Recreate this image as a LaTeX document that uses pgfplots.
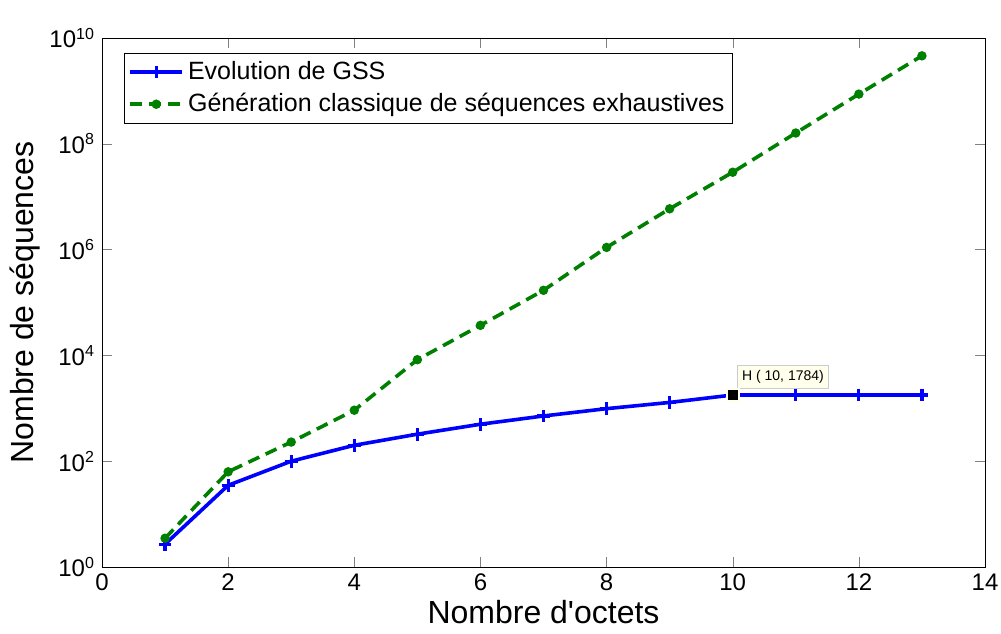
\documentclass[border=0pt]{standalone}
\usepackage{fontspec}
\setmainfont{Liberation Sans}
\usepackage{pgfplots}
\pgfplotsset{compat=1.18}
\definecolor{mblue}{RGB}{0,0,255}
\definecolor{mgreen}{RGB}{0,128,0}
\definecolor{tipbg}{RGB}{255,255,235}
\begin{document}
\begin{tikzpicture}
\path[use as bounding box] (0,0) rectangle (500.5pt,316.5pt);
\begin{axis}[
  at={(51pt,33pt)}, anchor=south west,
  scale only axis, width=441.5pt, height=264.5pt,
  xmin=0, xmax=14, ymode=log, ymin=1, ymax=1e10,
  xtick={0,2,...,14},
  ytick={1,1e2,1e4,1e6,1e8,1e10},
  yticklabels={10\textsuperscript{0},10\textsuperscript{2},10\textsuperscript{4},10\textsuperscript{6},10\textsuperscript{8},10\textsuperscript{10}},
  yminorticks=false,
  tick align=inside,
  major tick length=5pt,
  /pgf/number format/assume math mode=true,
  tick label style={font=\fontsize{12}{14}\selectfont},
  xlabel={Nombre d\textquotesingle octets},
  ylabel={Nombre de séquences},
  label style={font=\fontsize{16}{18}\selectfont},
  xlabel style={yshift=2pt},
  ylabel style={yshift=-2pt},
  axis line style={black},
  legend style={at={(0.025,0.9716)}, anchor=north west, font=\fontsize{12.5}{15}\selectfont, draw=black, row sep=1.5pt, inner sep=2pt},
  legend cell align=left,
  legend image code/.code={\draw[#1, mark repeat=2, mark phase=2] plot coordinates {(0pt,0pt) (13pt,0pt) (26pt,0pt)};},
]
\addplot[mblue, line width=1.8pt, mark=+, mark size=3.2pt, mark options={line width=1.6pt, solid}] coordinates {
(1,2.7) (2,35) (3,100) (4,200) (5,324) (6,500) (7,716) (8,985) (9,1290) (10,1784) (11,1784) (12,1784) (13,1784)
};
\addlegendentry{Evolution de GSS}
\addplot[mgreen, line width=1.8pt, dash pattern=on 6pt off 3.5pt, mark=*, mark size=1.4pt, mark options={solid}] coordinates {
(1,3.5) (2,63) (3,230) (4,920) (5,8300) (6,37000) (7,170000) (8,1.1e6) (9,5.9e6) (10,2.9e7) (11,1.6e8) (12,8.7e8) (13,4.6e9)
};
\addlegendentry{Génération classique de séquences exhaustives}
\addplot[only marks, mark=square*, mark size=3pt, mark options={fill=black, draw=tipbg, line width=0.8pt}, forget plot] coordinates {(10,1784)};
\node[anchor=south west, fill=tipbg, draw=black!20, font=\fontsize{7}{8}\selectfont, inner sep=2.5pt, xshift=2pt, yshift=3pt] at (axis cs:10,1784) {H ( 10, 1784)};
\end{axis}
\end{tikzpicture}
\end{document}
